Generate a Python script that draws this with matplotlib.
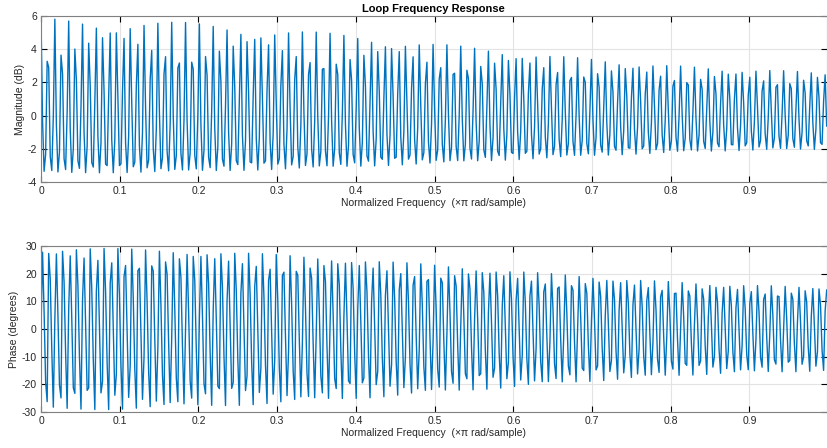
import numpy as np
import matplotlib
matplotlib.use("Agg")
import matplotlib.pyplot as plt

# feedback loop: y[n] = x[n] + (b0*y[n-D] + b1*y[n-D-1])
loop_delay = 795
loop_filter = [0.3775, 0.1125]
n_points = 512

xticks = [0, 0.1, 0.2, 0.3, 0.4, 0.5, 0.6, 0.7, 0.8, 0.9]
mag_ticks = [-4, -2, 0, 2, 4, 6]
phase_ticks = [-30, -20, -10, 0, 10, 20, 30]

# denominator polynomial 1 - z^-D (b0 + b1 z^-1)
a = np.zeros(loop_delay + len(loop_filter))
a[0] = 1.0
a[loop_delay:] = -np.array(loop_filter)

w = np.pi * np.arange(n_points) / n_points
z = np.exp(-1j * w)
h = 1.0 / np.polynomial.polynomial.polyval(z, a)
f = w / np.pi
mag_db = 20 * np.log10(np.abs(h))
phase_deg = np.degrees(np.unwrap(np.angle(h)))

plt.rcParams["font.family"] = ["Liberation Sans", "DejaVu Sans"]
plt.rcParams["font.size"] = 7.5
plt.rcParams["axes.unicode_minus"] = False

fig = plt.figure(figsize=(8.27, 4.48), dpi=100)
ax1 = fig.add_axes([0.0496, 0.5938, 0.9500, 0.3705])
ax2 = fig.add_axes([0.0496, 0.0804, 0.9500, 0.3705])

blue = "#0072BD"
for ax, y, ticks, ylab, lx in [(ax1, mag_db, mag_ticks, "Magnitude (dB)", -0.020),
                               (ax2, phase_deg, phase_ticks, "Phase (degrees)", -0.028)]:
    ax.plot(f, y, color=blue, lw=1.0)
    ax.set_xlim(0, f[-1])
    ax.set_ylim(ticks[0], ticks[-1])
    ax.set_xticks(xticks)
    ax.set_xticklabels([f"{t:g}" for t in xticks])
    ax.set_yticks(ticks)
    ax.grid(True, color="#e3e3e3", lw=0.8)
    ax.set_axisbelow(True)
    ax.tick_params(direction="in", length=4, width=0.8, top=True, right=True,
                   colors="#000000", labelcolor="#262626", pad=3)
    for s in ax.spines.values():
        s.set_color("#808080")
        s.set_linewidth(0.8)
    ax.set_ylabel(ylab, color="#262626")
    ax.yaxis.set_label_coords(lx, 0.5)
    ax.set_xlabel("Normalized Frequency  (\u00d7\u03c0 rad/sample)",
                  color="#262626", labelpad=1)

ax1.set_title("Loop Frequency Response", fontweight="bold", fontsize=8,
              pad=3)

fig.savefig("out.png", dpi=100)
